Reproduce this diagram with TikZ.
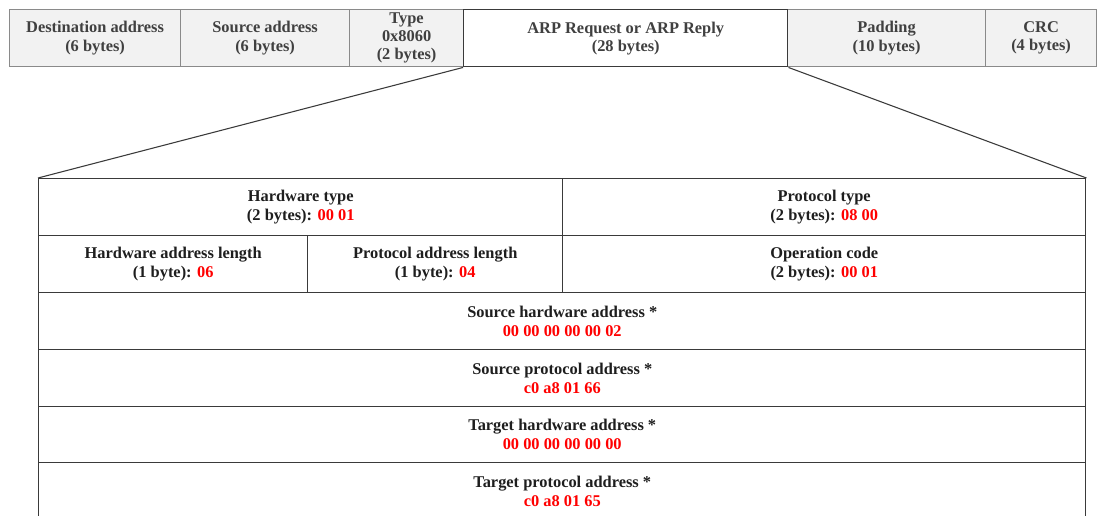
\documentclass[tikz,border=0pt]{standalone}
\usepackage{fontspec}
\setmainfont{Liberation Serif}
\definecolor{framegray}{HTML}{8A8A8A}
\definecolor{cellfill}{HTML}{F2F2F2}
\definecolor{darkline}{HTML}{3A3A3A}
\definecolor{toptext}{HTML}{404040}
\definecolor{bodytext}{HTML}{1E1E1E}
\definecolor{valred}{HTML}{FF0000}
\newcommand{\val}[1]{\textcolor{valred}{#1}}
\tikzset{
  x=0.75pt, y=-0.75pt,
  field/.style={draw=framegray, line width=0.9pt, fill=cellfill, inner sep=0pt,
    anchor=north west, align=center, text=toptext,
    font=\bfseries\fontsize{12.3pt}{13.6pt}\selectfont},
  payload/.style={field, draw=darkline, line width=1.1pt, fill=white},
  arpcell/.style={draw=darkline, line width=1.1pt, fill=white, inner sep=0pt,
    anchor=north west, align=center, text=bodytext,
    font=\bfseries\fontsize{12.3pt}{14.2pt}\selectfont},
  zoomline/.style={draw=darkline, line width=0.8pt},
}
% a cell spanning the pixel box (x1,y1)-(x2,y2)
\newcommand{\cell}[7]{%
  \node[#1, minimum width={(#5-#3)*0.75pt}, minimum height={(#6-#4)*0.75pt}]
    (#2) at (#3,#4) {#7};}
\begin{document}
\begin{tikzpicture}
\clip (0,0) rectangle (1105,516);
\fill[white] (0,0) rectangle (1105,516);

% Ethernet frame
\cell{field}{dst}{9}{9}{180}{66}{Destination address\\(6 bytes)}
\cell{field}{src}{180}{9}{349}{66}{Source address\\(6 bytes)}
\cell{field}{type}{349}{9}{463}{66}{Type\\0x8060\\(2 bytes)}
\cell{field}{pad}{787}{9}{985}{66}{Padding\\(10 bytes)}
\cell{field}{crc}{985}{9}{1096}{66}{CRC\\(4 bytes)}
\cell{payload}{arp}{463}{9}{787}{66}{ARP Request or ARP Reply\\(28 bytes)}

% ARP packet layout
\coordinate (tblnw) at (38,178);
\coordinate (tblne) at (1085,178);
\cell{arpcell}{htype}{38}{178}{562}{235}{Hardware type\\(2 bytes): \val{00 01}}
\cell{arpcell}{ptype}{562}{178}{1085}{235}{Protocol type\\(2 bytes): \val{08 00}}
\cell{arpcell}{hlen}{38}{235}{307}{292}{Hardware address length\\(1 byte): \val{06}}
\cell{arpcell}{plen}{307}{235}{562}{292}{Protocol address length\\(1 byte): \val{04}}
\cell{arpcell}{oper}{562}{235}{1085}{292}{Operation code\\(2 bytes): \val{00 01}}
\cell{arpcell}{sha}{38}{292}{1085}{349}{Source hardware address *\\\val{00 00 00 00 00 02}}
\cell{arpcell}{spa}{38}{349}{1085}{405.5}{Source protocol address *\\\val{c0 a8 01 66}}
\cell{arpcell}{tha}{38}{405.5}{1085}{462}{Target hardware address *\\\val{00 00 00 00 00 00}}
\cell{arpcell}{tpa}{38}{462}{1085}{519}{Target protocol address *\\\val{c0 a8 01 65}}

% expansion lines
\draw[zoomline] (arp.south west) -- (htype.north west);
\draw[zoomline] (arp.south east) -- (ptype.north east);
\end{tikzpicture}
\end{document}
